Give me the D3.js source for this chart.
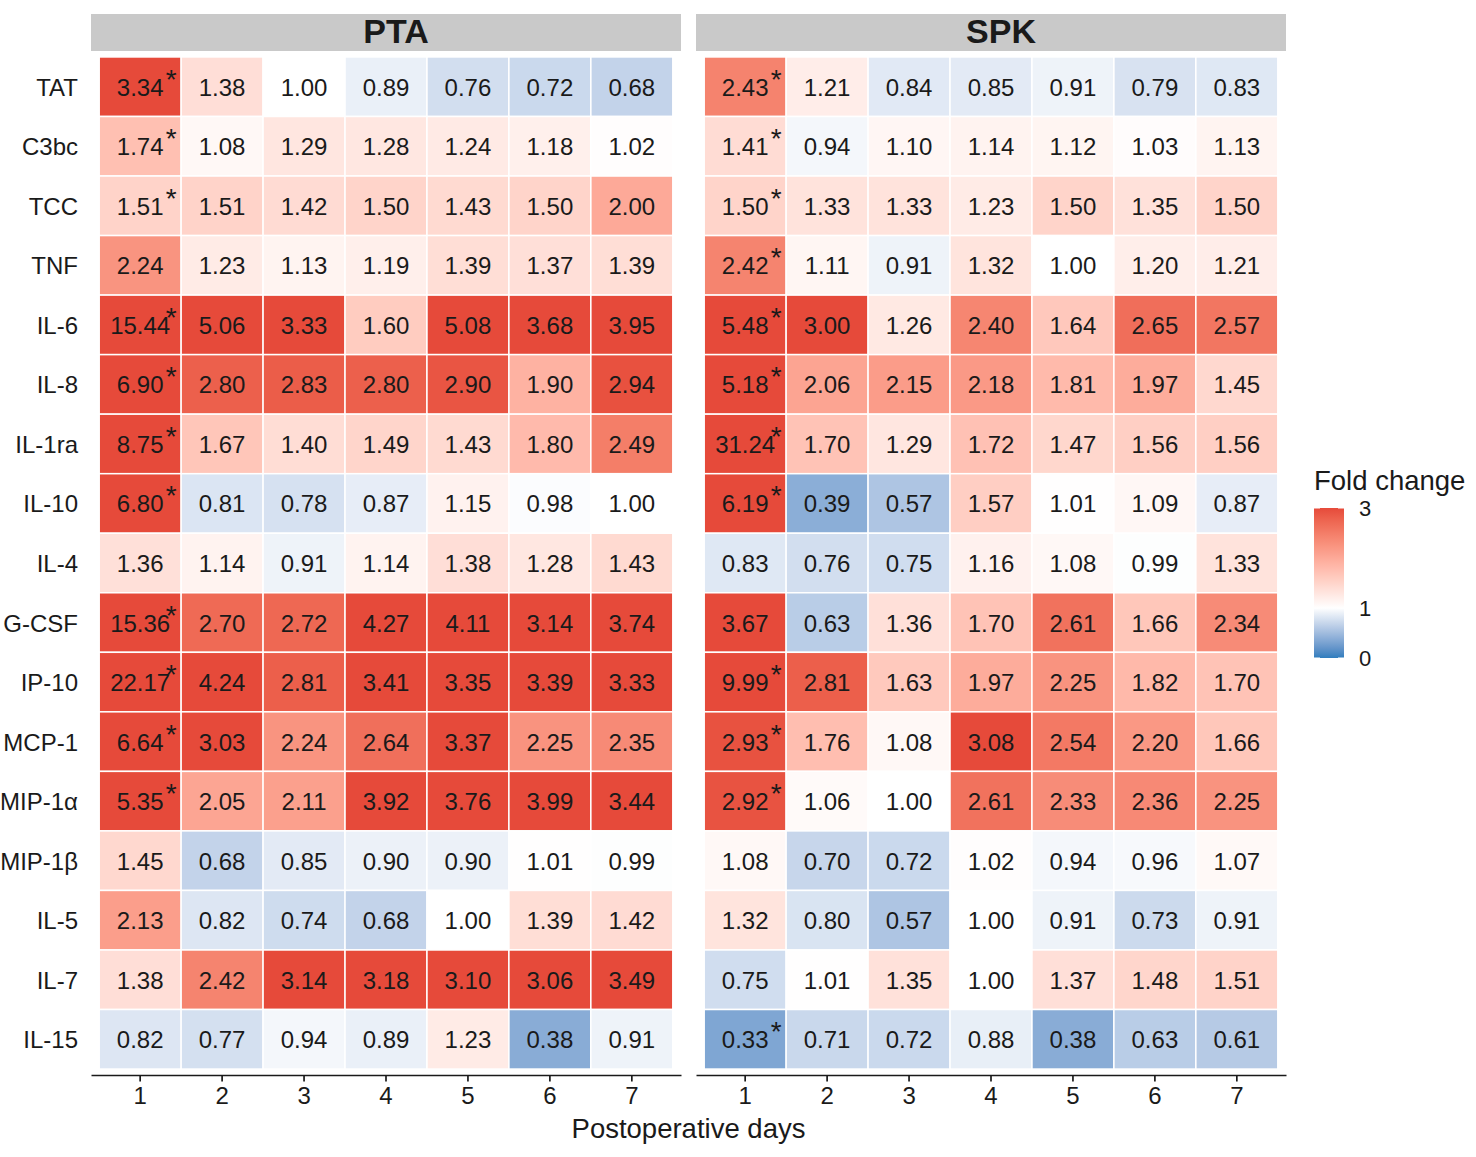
<!DOCTYPE html>
<html>
<head>
<meta charset="utf-8">
<script src="https://cdn.jsdelivr.net/npm/d3@7"></script>
<style>
  body { margin: 0; background: #fff; }
  svg text { font-family: "Liberation Sans", Arial, sans-serif; fill: #1a1a1a; }
</style>
</head>
<body>
<svg width="1476" height="1157"></svg>
<script>
// cytokines top to bottom, postoperative days left to right
const cytokines = ["TAT", "C3bc", "TCC", "TNF", "IL-6", "IL-8", "IL-1ra", "IL-10", "IL-4",
  "G-CSF", "IP-10", "MCP-1", "MIP-1\u03b1", "MIP-1\u03b2", "IL-5", "IL-7", "IL-15"];
const days = [1, 2, 3, 4, 5, 6, 7];
const groups = ["PTA", "SPK"];

// fold change, one row per cytokine
const ptaFold = [
  [3.34, 1.38, 1.00, 0.89, 0.76, 0.72, 0.68],
  [1.74, 1.08, 1.29, 1.28, 1.24, 1.18, 1.02],
  [1.51, 1.51, 1.42, 1.50, 1.43, 1.50, 2.00],
  [2.24, 1.23, 1.13, 1.19, 1.39, 1.37, 1.39],
  [15.44, 5.06, 3.33, 1.60, 5.08, 3.68, 3.95],
  [6.90, 2.80, 2.83, 2.80, 2.90, 1.90, 2.94],
  [8.75, 1.67, 1.40, 1.49, 1.43, 1.80, 2.49],
  [6.80, 0.81, 0.78, 0.87, 1.15, 0.98, 1.00],
  [1.36, 1.14, 0.91, 1.14, 1.38, 1.28, 1.43],
  [15.36, 2.70, 2.72, 4.27, 4.11, 3.14, 3.74],
  [22.17, 4.24, 2.81, 3.41, 3.35, 3.39, 3.33],
  [6.64, 3.03, 2.24, 2.64, 3.37, 2.25, 2.35],
  [5.35, 2.05, 2.11, 3.92, 3.76, 3.99, 3.44],
  [1.45, 0.68, 0.85, 0.90, 0.90, 1.01, 0.99],
  [2.13, 0.82, 0.74, 0.68, 1.00, 1.39, 1.42],
  [1.38, 2.42, 3.14, 3.18, 3.10, 3.06, 3.49],
  [0.82, 0.77, 0.94, 0.89, 1.23, 0.38, 0.91]
];

const spkFold = [
  [2.43, 1.21, 0.84, 0.85, 0.91, 0.79, 0.83],
  [1.41, 0.94, 1.10, 1.14, 1.12, 1.03, 1.13],
  [1.50, 1.33, 1.33, 1.23, 1.50, 1.35, 1.50],
  [2.42, 1.11, 0.91, 1.32, 1.00, 1.20, 1.21],
  [5.48, 3.00, 1.26, 2.40, 1.64, 2.65, 2.57],
  [5.18, 2.06, 2.15, 2.18, 1.81, 1.97, 1.45],
  [31.24, 1.70, 1.29, 1.72, 1.47, 1.56, 1.56],
  [6.19, 0.39, 0.57, 1.57, 1.01, 1.09, 0.87],
  [0.83, 0.76, 0.75, 1.16, 1.08, 0.99, 1.33],
  [3.67, 0.63, 1.36, 1.70, 2.61, 1.66, 2.34],
  [9.99, 2.81, 1.63, 1.97, 2.25, 1.82, 1.70],
  [2.93, 1.76, 1.08, 3.08, 2.54, 2.20, 1.66],
  [2.92, 1.06, 1.00, 2.61, 2.33, 2.36, 2.25],
  [1.08, 0.70, 0.72, 1.02, 0.94, 0.96, 1.07],
  [1.32, 0.80, 0.57, 1.00, 0.91, 0.73, 0.91],
  [0.75, 1.01, 1.35, 1.00, 1.37, 1.48, 1.51],
  [0.33, 0.71, 0.72, 0.88, 0.38, 0.63, 0.61]
];

// significant on day 1 (asterisk)
const ptaStars = ["TAT", "C3bc", "TCC", "IL-6", "IL-8", "IL-1ra", "IL-10", "G-CSF",
  "IP-10", "MCP-1", "MIP-1\u03b1"];
const spkStars = ["TAT", "C3bc", "TCC", "TNF", "IL-6", "IL-8", "IL-1ra", "IL-10",
  "IP-10", "MCP-1", "MIP-1\u03b1", "IL-15"];

const legendTicks = [0, 1, 3];

const svg = d3.select("svg");

const panelTop = 51, panelBottom = 1075;
const panels = [
  {name: groups[0], x0: 91, x1: 681, fold: ptaFold, stars: ptaStars},
  {name: groups[1], x0: 696, x1: 1286, fold: spkFold, stars: spkStars}
];

// values above 3 are squished to the top colour
const color = d3.scaleLinear()
  .domain([0, 1, 3])
  .range(["#2f7dbd", "#ffffff", "#e64a3a"])
  .interpolate(d3.interpolateLab)
  .clamp(true);

const y = d3.scaleBand()
  .domain(cytokines)
  .range([panelTop, panelBottom])
  .paddingOuter(0.1);

const fmt = d3.format(".2f");

panels.forEach(function(p, pi) {
  const x = d3.scaleBand()
    .domain(days)
    .range([p.x0, p.x1])
    .paddingOuter(0.1);

  const g = svg.append("g");

  // strip
  g.append("rect")
    .attr("x", p.x0).attr("y", 14)
    .attr("width", p.x1 - p.x0).attr("height", 37)
    .attr("fill", "#c9c9c9");
  g.append("text")
    .attr("x", (p.x0 + p.x1) / 2 + 10).attr("y", 43)
    .attr("text-anchor", "middle")
    .style("font-size", "34px").style("font-weight", "bold")
    .text(p.name);

  const cells = [];
  cytokines.forEach(function(c, i) {
    days.forEach(function(d, j) {
      cells.push({cyto: c, day: d, value: p.fold[i][j]});
    });
  });

  g.selectAll("rect.cell")
    .data(cells)
    .enter()
    .append("rect")
    .attr("class", "cell")
    .attr("x", d => x(d.day))
    .attr("y", d => y(d.cyto))
    .attr("width", x.bandwidth())
    .attr("height", y.bandwidth())
    .attr("fill", d => color(d.value))
    .attr("stroke", "#fff")
    .attr("stroke-width", 1.5);

  g.selectAll("text.val")
    .data(cells)
    .enter()
    .append("text")
    .attr("class", "val")
    .attr("x", d => x(d.day) + x.bandwidth() / 2)
    .attr("y", d => y(d.cyto) + y.bandwidth() / 2 + 9)
    .attr("text-anchor", "middle")
    .style("font-size", "24px")
    .text(d => fmt(d.value));

  // asterisks on day 1, raised like a superscript
  g.selectAll("text.star")
    .data(p.stars)
    .enter()
    .append("text")
    .attr("class", "star")
    .attr("x", x(days[0]) + x.bandwidth() / 2 + 31)
    .attr("y", d => y(d) + y.bandwidth() / 2 + 2)
    .attr("text-anchor", "middle")
    .style("font-size", "28px")
    .text("*");

  // bottom axis
  const axis = g.append("g")
    .attr("transform", "translate(0," + panelBottom + ")")
    .call(d3.axisBottom(x).tickSize(6.5).tickSizeOuter(0).tickPadding(5));
  axis.select(".domain").attr("stroke", "#1a1a1a").attr("stroke-width", 1.7);
  axis.selectAll(".tick line").attr("stroke", "#1a1a1a").attr("stroke-width", 1.7);
  axis.selectAll(".tick text")
    .style("font-size", "24px")
    .style("font-family", "'Liberation Sans', Arial, sans-serif")
    .attr("fill", "#1a1a1a");

  // row labels only on the first panel
  if (pi === 0) {
    g.selectAll("text.row")
      .data(cytokines)
      .enter()
      .append("text")
      .attr("class", "row")
      .attr("x", 78)
      .attr("y", d => y(d) + y.bandwidth() / 2 + 9)
      .attr("text-anchor", "end")
      .style("font-size", "24px")
      .text(d => d);
  }
});

// x axis title
svg.append("text")
  .attr("x", (panels[0].x0 + panels[1].x1) / 2)
  .attr("y", 1138)
  .attr("text-anchor", "middle")
  .style("font-size", "27.5px")
  .text("Postoperative days");

// legend
const lg = svg.append("g");
const lx = 1314, lw = 30, lTop = 508, lBottom = 658;
const ly = d3.scaleLinear().domain([0, 3]).range([lBottom, lTop]);

const grad = svg.append("defs").append("linearGradient")
  .attr("id", "fc-grad")
  .attr("x1", 0).attr("y1", 1).attr("x2", 0).attr("y2", 0);
grad.selectAll("stop")
  .data(d3.range(0, 3.001, 0.1))
  .enter()
  .append("stop")
  .attr("offset", d => d / 3)
  .attr("stop-color", d => color(d));

lg.append("text")
  .attr("x", lx).attr("y", 490)
  .style("font-size", "27.5px")
  .text("Fold change");

lg.append("rect")
  .attr("x", lx).attr("y", lTop)
  .attr("width", lw).attr("height", lBottom - lTop)
  .attr("fill", "url(#fc-grad)");

legendTicks.forEach(function(t) {
  lg.append("line")
    .attr("x1", lx).attr("x2", lx + 6)
    .attr("y1", ly(t)).attr("y2", ly(t))
    .attr("stroke", "#fff").attr("stroke-width", 1);
  lg.append("line")
    .attr("x1", lx + lw - 6).attr("x2", lx + lw)
    .attr("y1", ly(t)).attr("y2", ly(t))
    .attr("stroke", "#fff").attr("stroke-width", 1);
  lg.append("text")
    .attr("x", lx + lw + 21)
    .attr("y", ly(t) + 8)
    .attr("text-anchor", "middle")
    .style("font-size", "22px")
    .text(t);
});
</script>
</body>
</html>
